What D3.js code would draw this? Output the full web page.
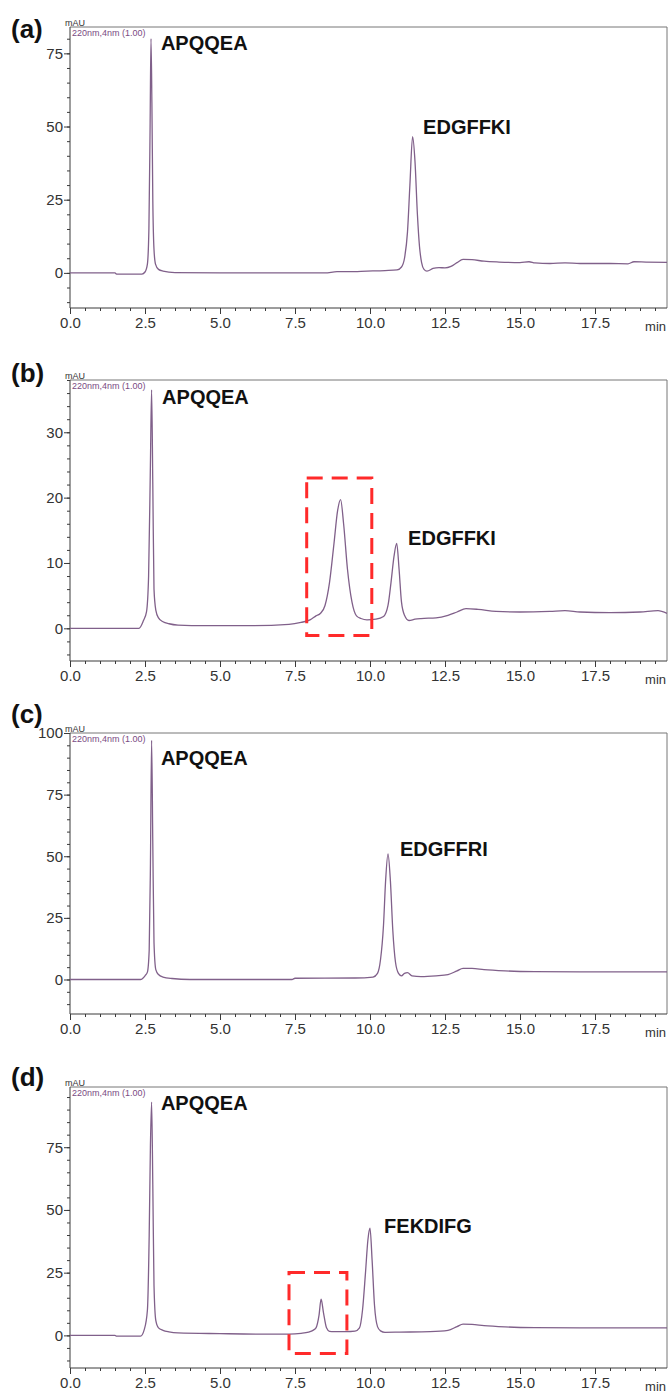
<!DOCTYPE html>
<html>
<head>
<meta charset="utf-8">
<script src="https://cdn.jsdelivr.net/npm/d3@7"></script>
<style>
  html, body { margin: 0; padding: 0; background: #fff; }
  svg { display: block; font-family: "Liberation Sans", Arial, sans-serif; }
</style>
</head>
<body>
<svg id="chart" width="670" height="1394"></svg>
<script>
// ---- Chromatogram data (retention time in min, absorbance in mAU at 220 nm) ----
const panelNames = ["(a)", "(b)", "(c)", "(d)"];

const timeA = [0, 1.5, 1.55, 2.4, 2.5, 2.58, 2.63, 2.67, 2.70, 2.73, 2.76, 2.8, 2.85, 2.95, 3.1, 3.5, 5.0, 8.5, 8.9, 9.3, 9.9, 10.5, 10.9, 11.05, 11.15, 11.25, 11.33, 11.42, 11.5, 11.58, 11.65, 11.72, 11.8, 11.9, 12.1, 12.3, 12.5, 12.7, 12.9, 13.1, 13.4, 13.8, 14.3, 15.0, 15.3, 15.5, 16.0, 16.5, 17.0, 18.0, 18.6, 18.8, 19.2, 19.9];
const absA  = [0, 0, -0.4, -0.4, 0.3, 3, 15, 50, 80, 58, 25, 8, 3, 1.2, 0.6, 0.1, 0, 0, 0.4, 0.4, 0.6, 0.8, 1.0, 2.0, 5, 14, 30, 46.5, 38, 20, 9, 3.5, 1.2, 0.6, 1.5, 1.8, 1.7, 2.2, 3.5, 4.6, 4.5, 4.0, 3.7, 3.5, 3.8, 3.4, 3.2, 3.4, 3.2, 3.2, 3.1, 3.8, 3.7, 3.6];

const timeB = [0, 2.3, 2.45, 2.55, 2.62, 2.68, 2.72, 2.76, 2.8, 2.86, 2.95, 3.1, 3.3, 3.6, 4.5, 6, 7.3, 7.7, 8.0, 8.2, 8.35, 8.5, 8.65, 8.8, 8.92, 9.02, 9.12, 9.25, 9.4, 9.55, 9.7, 9.9, 10.2, 10.45, 10.6, 10.7, 10.8, 10.89, 10.97, 11.05, 11.15, 11.3, 11.5, 11.7, 12.2, 12.6, 12.9, 13.2, 13.6, 14.2, 15.0, 16.0, 16.5, 17.0, 18.0, 19.0, 19.6, 19.9];
const absB  = [0, 0, 1.2, 2.5, 8, 25, 36.5, 22, 6, 2.8, 1.6, 1.0, 0.7, 0.5, 0.4, 0.4, 0.6, 0.9, 1.3, 1.9, 2.3, 3.5, 7, 13, 18, 19.7, 16, 9, 4, 1.9, 1.5, 1.3, 1.4, 1.8, 3.5, 7, 11, 13, 9, 4, 2, 1.2, 1.4, 1.5, 1.6, 2.0, 2.5, 3.0, 2.9, 2.6, 2.5, 2.6, 2.7, 2.5, 2.4, 2.5, 2.7, 2.3];

const timeC = [0, 2.35, 2.5, 2.58, 2.64, 2.68, 2.72, 2.76, 2.8, 2.86, 2.95, 3.1, 3.4, 4, 7.4, 7.5, 9.5, 10.1, 10.25, 10.35, 10.45, 10.52, 10.6, 10.68, 10.76, 10.85, 10.95, 11.05, 11.15, 11.25, 11.4, 11.7, 12.2, 12.6, 12.9, 13.1, 13.4, 13.8, 14.5, 15.5, 17, 19.9];
const absC  = [0, 0, 1.5, 3, 12, 45, 97, 55, 15, 4, 2, 1, 0.4, 0, 0, 0.5, 0.6, 1.0, 2.5, 8, 22, 40, 51, 40, 20, 7, 2.5, 1.5, 2.5, 2.8, 1.5, 1.2, 1.5, 2, 3.5, 4.5, 4.5, 4, 3.5, 3.2, 3.1, 3.1];

const timeD = [0, 1.5, 1.55, 2.35, 2.48, 2.58, 2.64, 2.68, 2.72, 2.76, 2.8, 2.86, 2.95, 3.1, 3.3, 3.6, 5, 6.5, 7.3, 7.7, 7.95, 8.1, 8.2, 8.3, 8.37, 8.45, 8.55, 8.65, 8.8, 9.2, 9.5, 9.65, 9.75, 9.85, 9.93, 10.0, 10.07, 10.15, 10.25, 10.35, 10.5, 11, 12, 12.6, 12.9, 13.1, 13.4, 13.8, 14.5, 15.5, 17, 19.9];
const absD  = [0, 0, -0.3, -0.3, 2.5, 10, 40, 75, 93, 60, 20, 6, 3, 2, 1.4, 1.0, 0.7, 0.5, 0.5, 0.8, 1.3, 2, 3, 8, 14.4, 9, 3, 1.6, 1.5, 1.5, 1.7, 3, 10, 25, 38, 42.7, 30, 12, 3.5, 1.8, 1.2, 1.3, 1.5, 2, 3.5, 4.5, 4.4, 3.9, 3.4, 3.1, 3.0, 3.0];

// axis ranges and ticks
const timeRange = [0, 19.9];
const timeTicks = [0, 2.5, 5, 7.5, 10, 12.5, 15, 17.5];
const timeMinorStep = 0.5;
const absRanges = [[-12, 84], [-5, 38], [-14, 100], [-13, 99]];
const absTicks = [[0, 25, 50, 75], [0, 10, 20, 30], [0, 25, 50, 75, 100], [0, 25, 50, 75]];
const absMinorStep = [5, 2, 5, 5];

// peak annotations: [name, time, mAU] (left end of text baseline)
const peakLabels = [
  [["APQQEA", 3.03, 76], ["EDGFFKI", 11.77, 47.5]],
  [["APQQEA", 3.07, 34.3], ["EDGFFKI", 11.27, 12.7]],
  [["APQQEA", 3.03, 87], ["EDGFFRI", 11.0, 50]],
  [["APQQEA", 3.03, 89.8], ["FEKDIFG", 10.47, 40.8]]
];

// highlighted regions: [panel index, t0, t1, mAU low, mAU high]
const boxes = [[1, 7.89, 10.06, -1.1, 23.0], [3, 7.3, 9.23, -7.2, 25.1]];

const detectorText = "220nm,4nm (1.00)";
const traces = [[timeA, absA], [timeB, absB], [timeC, absC], [timeD, absD]];

// ---- layout ----
const svg = d3.select("#chart");
svg.append("rect").attr("width", 670).attr("height", 1394).attr("fill", "#fff");

const left = 70, right = 667;
const tops = [27, 380, 733, 1087];
const letterBaseline = [38, 382, 723, 1086];
const plotH = 281;
const traceColor = "#80608a";
const axisColor = "#3a3a3a";
const textColor = "#333";

const x = d3.scaleLinear().domain(timeRange).range([left, right]);
const minorTimes = d3.range(timeRange[0], timeRange[1] + 1e-9, timeMinorStep);

traces.forEach((tr, i) => {
  const top = tops[i];
  const bottom = top + plotH;
  const y = d3.scaleLinear().domain(absRanges[i]).range([bottom, top]);
  const g = svg.append("g");

  // frame (top and right edges)
  g.append("path")
    .attr("d", `M${left},${top}H${right}V${bottom}`)
    .attr("fill", "none").attr("stroke", "#777").attr("stroke-width", 1);

  // minor ticks
  const ymin = absRanges[i][0], ymax = absRanges[i][1], st = absMinorStep[i];
  const minorAbs = d3.range(Math.ceil(ymin / st) * st, ymax + 1e-9, st);
  const yMinor = d3.axisLeft(y).tickValues(minorAbs).tickSize(3).tickFormat("");
  g.append("g").attr("transform", `translate(${left},0)`).call(yMinor)
    .call(s => s.select(".domain").remove())
    .call(s => s.selectAll("line").attr("stroke", axisColor));
  const xMinor = d3.axisBottom(x).tickValues(minorTimes).tickSize(3).tickFormat("");
  g.append("g").attr("transform", `translate(0,${bottom})`).call(xMinor)
    .call(s => s.select(".domain").remove())
    .call(s => s.selectAll("line").attr("stroke", axisColor));

  // major axes
  const yAxis = d3.axisLeft(y).tickValues(absTicks[i]).tickSize(6).tickPadding(1).tickFormat(d3.format("d"));
  g.append("g").attr("transform", `translate(${left},0)`).call(yAxis)
    .call(s => s.select(".domain").attr("d", `M0,${bottom}V${top}`).attr("stroke", axisColor))
    .call(s => s.selectAll("line").attr("stroke", axisColor))
    .call(s => s.selectAll("text").attr("fill", textColor).attr("font-size", 15)
      .attr("font-family", "Liberation Sans, Arial, sans-serif"));

  const xAxis = d3.axisBottom(x).tickValues(timeTicks).tickSize(6).tickPadding(3).tickFormat(d3.format(".1f"));
  g.append("g").attr("transform", `translate(0,${bottom})`).call(xAxis)
    .call(s => s.select(".domain").attr("d", `M${left},0H${right}`).attr("stroke", axisColor))
    .call(s => s.selectAll("line").attr("stroke", axisColor))
    .call(s => s.selectAll("text").attr("fill", textColor).attr("font-size", 15)
      .attr("font-family", "Liberation Sans, Arial, sans-serif"));

  g.append("text").attr("x", right - 1).attr("y", bottom + 23)
    .attr("text-anchor", "end").attr("font-size", 13).attr("fill", textColor).text("min");

  // units and detector captions
  g.append("text").attr("x", left - 5).attr("y", top - 1)
    .attr("font-size", 9).attr("fill", textColor).text("mAU");
  g.append("text").attr("x", left + 2).attr("y", top + 9)
    .attr("font-size", 9).attr("fill", "#7a4b83").text(detectorText);

  // panel letter
  g.append("text").attr("x", 11).attr("y", letterBaseline[i])
    .attr("font-size", 26).attr("font-weight", "bold").attr("fill", "#111").text(panelNames[i]);

  // trace
  const pts = tr[0].map((t, k) => [t, tr[1][k]]);
  const line = d3.line().x(d => x(d[0])).y(d => y(d[1])).curve(d3.curveMonotoneX);
  g.append("path").datum(pts).attr("d", line)
    .attr("fill", "none").attr("stroke", traceColor).attr("stroke-width", 1.3)
    .attr("stroke-linejoin", "round");

  // peak names
  peakLabels[i].forEach(p => {
    g.append("text").attr("x", x(p[1])).attr("y", y(p[2]))
      .attr("font-size", 20).attr("font-weight", "bold").attr("fill", "#111").text(p[0]);
  });

  // dashed highlight boxes
  boxes.filter(b => b[0] === i).forEach(b => {
    g.append("rect")
      .attr("x", x(b[1])).attr("y", y(b[4]))
      .attr("width", x(b[2]) - x(b[1])).attr("height", y(b[3]) - y(b[4]))
      .attr("fill", "none").attr("stroke", "#ff2a2a").attr("stroke-width", 3)
      .attr("stroke-dasharray", "16,9");
  });
});
</script>
</body>
</html>
